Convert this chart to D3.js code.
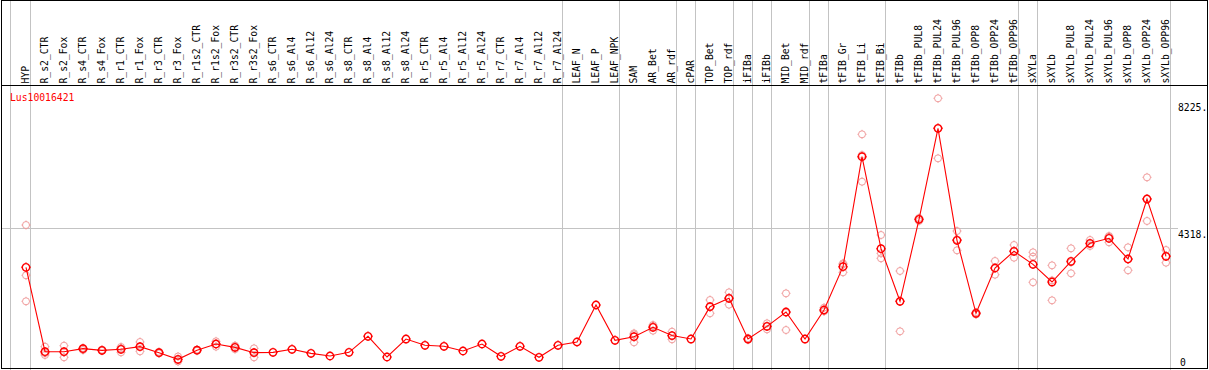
<!DOCTYPE html>
<html>
<head>
<meta charset="utf-8">
<script src="https://cdn.jsdelivr.net/npm/d3@7/dist/d3.min.js"></script>
<style>
  html, body { margin: 0; padding: 0; background: #fff; }
  svg { display: block; }
  text { font-family: "DejaVu Sans Mono", "Liberation Mono", monospace; }
</style>
</head>
<body>
<svg id="chart" width="1209" height="370"></svg>
<script>
const categories = ["HYP","R_s2_CTR","R_s2_Fox","R_s4_CTR","R_s4_Fox","R_r1_CTR","R_r1_Fox","R_r3_CTR","R_r3_Fox",
  "R_r1s2_CTR","R_r1s2_Fox","R_r3s2_CTR","R_r3s2_Fox","R_s6_CTR","R_s6_Al4","R_s6_Al12","R_s6_Al24",
  "R_s8_CTR","R_s8_Al4","R_s8_Al12","R_s8_Al24","R_r5_CTR","R_r5_Al4","R_r5_Al12","R_r5_Al24",
  "R_r7_CTR","R_r7_Al4","R_r7_Al12","R_r7_Al24","LEAF_N","LEAF_P","LEAF_NPK","SAM","AR_Bet","AR_rdf",
  "cPAR","TOP_Bet","TOP_rdf","iFIBa","iFIBb","MID_Bet","MID_rdf","tFIBa","tFIB_Gr","tFIB_Li","tFIB_Bi",
  "tFIBb","tFIBb_PUL8","tFIBb_PUL24","tFIBb_PUL96","tFIBb_OPP8","tFIBb_OPP24","tFIBb_OPP96",
  "sXYLa","sXYLb","sXYLb_PUL8","sXYLb_PUL24","sXYLb_PUL96","sXYLb_OPP8","sXYLb_OPP24","sXYLb_OPP96"];

const meanValues = [3106,503,503,596,545,576,658,473,267,
  550,740,637,473,483,576,452,370,
  483,977,339,894,700,669,524,740,
  360,669,329,700,802,1943,854,966,1255,1000,
  894,1891,2149,894,1285,1727,894,1789,3125,6517,3680,
  2057,4585,7393,3938,1687,3084,3600,
  3197,2652,3290,3845,4000,3362,5212,3445];

const rep1 = [4410,657,688,617,560,648,802,500,355,
  570,823,690,607,null,null,null,null,
  null,null,null,null,null,null,null,null,
  null,null,null,null,null,null,null,1070,1326,1120,
  null,2097,2334,920,1378,2303,null,1860,3228,7208,4102,
  2992,4626,8318,4225,1720,3300,3794,
  3568,3166,3691,3948,4071,3722,5881,3639];
const rep2 = [2859,401,330,555,530,483,514,450,247,
  530,658,580,329,null,null,null,null,
  null,null,null,null,null,null,null,null,
  null,null,null,null,null,null,null,792,1151,885,
  null,1687,1953,870,1192,1172,null,1758,2951,6569,3537,
  1131,4534,6467,3630,1650,2878,3402,
  3434,2087,2920,3763,3877,3013,4534,3248];
const rep3 = [2057,460,490,610,545,600,658,470,200,
  550,740,640,483,null,null,null,null,
  null,null,null,null,null,null,null,null,
  null,null,null,null,null,null,null,1036,1288,995,
  null,1889,2160,894,1285,1706,null,1750,3196,5746,3383,
  2050,4595,7393,3960,1690,3075,3604,
  2643,2703,3260,3825,4050,3350,5220,3448];

const groupEnds = ["HYP","R_r7_Al24","LEAF_NPK","AR_rdf","cPAR","TOP_rdf","iFIBa","iFIBb",
  "MID_rdf","tFIBa","tFIB_Bi","tFIBb_OPP96","sXYLa","sXYLb_OPP96"];

const yTickValues = [0, 4318, 8225];
const yTickLabels = ["0", "4318.", "8225."];
const geneName = "Lus10016421";

const W = 1209, H = 370;
const svg = d3.select("#chart");

const x = d3.scalePoint().domain(categories).range([26, 1166]);
const y = d3.scaleLinear().domain([0, 4318]).range([368, 228]);

const grey = "#c3c3c3";
const CH = 5.85; // character advance in px

// vertical group separators
const sepX = [x(categories[0]) - x.step() + 3.5].concat(groupEnds.map(c => x(c) + 4.5));
svg.append("g").selectAll("line").data(sepX).join("line")
  .attr("x1", d => d).attr("x2", d => d)
  .attr("y1", 0).attr("y2", H)
  .attr("stroke", grey).attr("stroke-width", 1)
  .attr("shape-rendering", "crispEdges");

// horizontal gridline
svg.append("line")
  .attr("x1", 2).attr("x2", 1178)
  .attr("y1", Math.round(y(4318)) + 0.5).attr("y2", Math.round(y(4318)) + 0.5)
  .attr("stroke", grey).attr("shape-rendering", "crispEdges");

// frame and header separator
svg.append("rect")
  .attr("x", 1.5).attr("y", 0.5).attr("width", 1206).attr("height", 368)
  .attr("fill", "none").attr("stroke", "#000").attr("shape-rendering", "crispEdges");
svg.append("line")
  .attr("x1", 1.5).attr("x2", 1207.5).attr("y1", 85.5).attr("y2", 85.5)
  .attr("stroke", "#000").attr("shape-rendering", "crispEdges");

// header labels
svg.append("g").selectAll("text").data(categories).join("text")
  .attr("transform", d => `translate(${x(d) + 2.5},83.5) rotate(-90)`)
  .attr("font-size", "10.6px")
  .attr("textLength", d => d.length * CH)
  .attr("lengthAdjust", "spacingAndGlyphs")
  .attr("fill", "#000")
  .text(d => d);

// gene name
svg.append("text").attr("x", 10).attr("y", 101)
  .attr("font-size", "10.6px")
  .attr("textLength", geneName.length * CH)
  .attr("lengthAdjust", "spacingAndGlyphs")
  .attr("fill", "#ff0000").text(geneName);

// right axis
const axis = d3.axisRight(y).tickValues(yTickValues)
  .tickFormat((d, i) => yTickLabels[i]).tickSize(0).tickPadding(0);
const ag = svg.append("g").attr("transform", "translate(1178,0)").call(axis);
ag.select(".domain").remove();
ag.selectAll("text")
  .attr("font-family", "DejaVu Sans Mono, monospace")
  .attr("font-size", "10.6px")
  .attr("textLength", (d, i) => yTickLabels[i].length * CH)
  .attr("lengthAdjust", "spacingAndGlyphs")
  .attr("fill", "#000")
  .attr("text-anchor", "start")
  .attr("dy", null)
  .attr("x", (d) => d === 0 ? 2 : 0)
  .attr("y", d => Math.min(y(d) + 9, 365.5) - y(d));

function marker(r, t) {
  return `M${r},0 A${r},${r} 0 1,1 ${-r},0 A${r},${r} 0 1,1 ${r},0 ` +
    `M0,${-r} V${-r - t} M0,${r} V${r + t} M${-r},0 H${-r - t} M${r},0 H${r + t}`;
}

// replicates
const reps = [];
[rep1, rep2, rep3].forEach(arr => arr.forEach((v, i) => {
  if (v !== null) reps.push({ c: categories[i], v });
}));
svg.append("g").selectAll("path").data(reps).join("path")
  .attr("d", marker(3.5, 1))
  .attr("transform", d => `translate(${x(d.c)},${y(d.v)})`)
  .attr("fill", "none").attr("stroke", "#f09c9c").attr("stroke-width", 1);

// mean line
const meanData = categories.map((c, i) => ({ c, v: meanValues[i] }));
svg.append("path").datum(meanData)
  .attr("d", d3.line().x(d => x(d.c)).y(d => y(d.v)))
  .attr("fill", "none").attr("stroke", "#ff0000").attr("stroke-width", 1.1);

// mean markers
svg.append("g").selectAll("path").data(meanData).join("path")
  .attr("d", marker(3.7, 1))
  .attr("transform", d => `translate(${x(d.c)},${y(d.v)})`)
  .attr("fill", "none").attr("stroke", "#ff0000").attr("stroke-width", 1.4);
</script>
</body>
</html>
